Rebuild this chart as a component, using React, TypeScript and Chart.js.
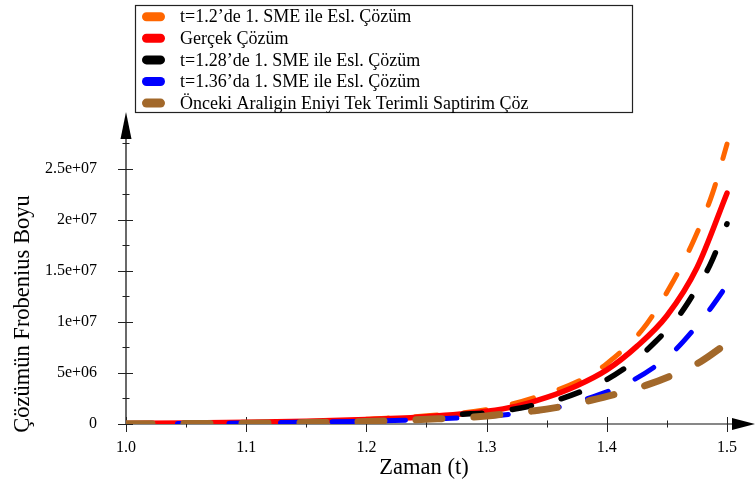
import React, { useEffect, useRef } from 'react';
import { Chart, registerables } from 'chart.js';

Chart.register(...registerables);

const FONT = "'Liberation Serif', 'DejaVu Serif', serif";

const seriesLabels = [
  't=1.2\u2019de 1. SME ile Esl. Çözüm',
  'Gerçek Çözüm',
  't=1.28\u2019de 1. SME ile Esl. Çözüm',
  't=1.36\u2019da 1. SME ile Esl. Çözüm',
  'Önceki Araligin Eniyi Tek Terimli Saptirim Çöz',
];
const seriesColors = ['#ff6600', '#ff0000', '#000000', '#0000ff', '#a2682a'];

const orangeT = [1.2, 1.25, 1.3, 1.34, 1.38, 1.4, 1.43, 1.453, 1.472, 1.488, 1.5];
const orangeV = [4.7e5, 8.0e5, 1.4e6, 2.6e6, 4.4e6, 5.9e6, 9.3e6, 1.35e7, 1.79e7, 2.26e7, 2.74e7];

const redT = [1.0, 1.05, 1.1, 1.15, 1.2, 1.25, 1.3, 1.325, 1.35, 1.375, 1.4, 1.425, 1.45, 1.475, 1.5];
const redV = [5e4, 1.0e5, 1.7e5, 2.8e5, 4.5e5, 7.2e5, 1.25e6, 1.75e6, 2.6e6, 3.75e6, 5.3e6, 7.6e6, 1.06e7, 1.53e7, 2.26e7];

const blackT = [1.28, 1.3, 1.32, 1.34, 1.36, 1.38, 1.4, 1.42, 1.44, 1.46, 1.475, 1.486, 1.5];
const blackV = [9.5e5, 1.1e6, 1.4e6, 1.86e6, 2.4e6, 3.25e6, 4.35e6, 5.9e6, 8.0e6, 1.06e7, 1.33e7, 1.56e7, 1.96e7];

const blueT = [1.0, 1.05, 1.1, 1.15, 1.2, 1.25, 1.3, 1.32, 1.34, 1.36, 1.383, 1.404, 1.422, 1.441, 1.457, 1.472, 1.485, 1.5];
const blueV = [0, 5e4, 1.0e5, 1.8e5, 2.8e5, 4.5e5, 7.5e5, 9.5e5, 1.25e6, 1.65e6, 2.45e6, 3.33e6, 4.3e6, 5.7e6, 7.25e6, 9.2e6, 1.11e7, 1.36e7];

const brownT = [1.0, 1.05, 1.1, 1.15, 1.2, 1.25, 1.3, 1.32, 1.34, 1.365, 1.386, 1.41, 1.433, 1.457, 1.478, 1.5];
const brownV = [2e4, 4e4, 8e4, 1.4e5, 2.5e5, 4.6e5, 7.8e5, 1.05e6, 1.3e6, 1.76e6, 2.3e6, 3.0e6, 3.8e6, 4.9e6, 6.1e6, 7.9e6];

const xTickValues = [1.0, 1.1, 1.2, 1.3, 1.4, 1.5];
const xTickLabels = ['1.0', '1.1', '1.2', '1.3', '1.4', '1.5'];
const xMinorValues = [1.05, 1.15, 1.25, 1.35, 1.45];
const yTickValues = [0, 5e6, 1e7, 1.5e7, 2e7, 2.5e7];
const yTickLabels = ['0', '5e+06', '1e+07', '1.5e+07', '2e+07', '2.5e+07'];
const yMinorValues = [2.5e6, 7.5e6, 1.25e7, 1.75e7, 2.25e7, 2.75e7];

const xTitle = 'Zaman (t)';
const yTitle = 'Çözümün Frobenius Boyu';

const toPoints = (t: number[], v: number[]) => t.map((x, i) => ({ x, y: v[i] }));

const axesPlugin = {
  id: 'customAxes',
  beforeDatasetsDraw(chart: any) {
    const { ctx, chartArea, scales } = chart;
    const xs = scales.x;
    const ys = scales.y;
    const x0 = xs.getPixelForValue(1.0);
    const y0 = ys.getPixelForValue(0);
    ctx.save();
    ctx.strokeStyle = '#444';
    ctx.fillStyle = '#000';
    ctx.lineWidth = 1.6;
    // y axis
    ctx.beginPath();
    ctx.moveTo(x0, y0 + 1);
    ctx.lineTo(x0, chartArea.top);
    ctx.stroke();
    ctx.beginPath();
    ctx.moveTo(x0, chartArea.top - 26);
    ctx.lineTo(x0 - 5.5, chartArea.top + 1);
    ctx.lineTo(x0 + 5.5, chartArea.top + 1);
    ctx.closePath();
    ctx.fill();
    // x axis
    ctx.lineWidth = 1.2;
    ctx.strokeStyle = '#111';
    ctx.beginPath();
    ctx.moveTo(x0, y0);
    ctx.lineTo(chartArea.right, y0);
    ctx.stroke();
    ctx.beginPath();
    ctx.moveTo(chartArea.right + 22, y0);
    ctx.lineTo(chartArea.right - 1, y0 - 6);
    ctx.lineTo(chartArea.right - 1, y0 + 6);
    ctx.closePath();
    ctx.fill();
    // ticks
    ctx.lineWidth = 1;
    ctx.strokeStyle = '#222';
    yTickValues.forEach((v) => {
      const p = Math.round(ys.getPixelForValue(v)) + 0.5;
      ctx.beginPath();
      ctx.moveTo(x0 - 8, p);
      ctx.lineTo(x0 + 7, p);
      ctx.stroke();
    });
    yMinorValues.forEach((v) => {
      const p = Math.round(ys.getPixelForValue(v)) + 0.5;
      ctx.beginPath();
      ctx.moveTo(x0 - 3.5, p);
      ctx.lineTo(x0 + 3.5, p);
      ctx.stroke();
    });
    xTickValues.forEach((v) => {
      const p = Math.round(xs.getPixelForValue(v)) + 0.5;
      ctx.beginPath();
      ctx.moveTo(p, y0 - 7);
      ctx.lineTo(p, y0 + 8);
      ctx.stroke();
    });
    xMinorValues.forEach((v) => {
      const p = Math.round(xs.getPixelForValue(v)) + 0.5;
      ctx.beginPath();
      ctx.moveTo(p, y0 - 3.5);
      ctx.lineTo(p, y0 + 3.5);
      ctx.stroke();
    });
    // titles
    ctx.fillStyle = '#000';
    ctx.font = `22.5px ${FONT}`;
    ctx.textAlign = 'center';
    ctx.textBaseline = 'middle';
    ctx.fillText(xTitle, 424, 468);
    ctx.translate(23, 314);
    ctx.rotate(-Math.PI / 2);
    ctx.fillText(yTitle, 0, 0);
    ctx.restore();
  },
};

const legendPlugin = {
  id: 'boxLegend',
  afterDraw(chart: any) {
    const { ctx } = chart;
    ctx.save();
    ctx.fillStyle = '#fff';
    ctx.fillRect(135, 5, 498, 108);
    ctx.strokeStyle = '#222';
    ctx.lineWidth = 1.2;
    ctx.strokeRect(135.5, 5.5, 497, 107);
    ctx.font = `18px ${FONT}`;
    ctx.textAlign = 'left';
    ctx.textBaseline = 'middle';
    chart.data.datasets.forEach((ds: any, i: number) => {
      const cy = 16.7 + i * 21.6;
      ctx.fillStyle = ds.borderColor;
      const w = 23;
      const h = 9;
      const x = 142;
      ctx.beginPath();
      ctx.moveTo(x + h / 2, cy - h / 2);
      ctx.lineTo(x + w - h / 2, cy - h / 2);
      ctx.arc(x + w - h / 2, cy, h / 2, -Math.PI / 2, Math.PI / 2);
      ctx.lineTo(x + h / 2, cy + h / 2);
      ctx.arc(x + h / 2, cy, h / 2, Math.PI / 2, (3 * Math.PI) / 2);
      ctx.closePath();
      ctx.fill();
      ctx.fillStyle = '#000';
      ctx.fillText(ds.label, 180, cy + 1);
    });
    ctx.restore();
  },
};

export default function App() {
  const canvasRef = useRef<HTMLCanvasElement | null>(null);

  useEffect(() => {
    if (!canvasRef.current) return;
    const common = {
      pointRadius: 0,
      pointHoverRadius: 0,
      fill: false,
      cubicInterpolationMode: 'monotone' as const,
      borderCapStyle: 'round' as const,
      borderJoinStyle: 'round' as const,
    };
    const chart = new Chart(canvasRef.current, {
      type: 'line',
      data: {
        datasets: [
          { ...common, label: seriesLabels[0], data: toPoints(orangeT, orangeV), borderColor: seriesColors[0], borderWidth: 5, borderDash: [22, 27], order: 5 },
          { ...common, label: seriesLabels[1], data: toPoints(redT, redV), borderColor: seriesColors[1], borderWidth: 5.5, order: 4 },
          { ...common, label: seriesLabels[2], data: toPoints(blackT, blackV), borderColor: seriesColors[2], borderWidth: 5.5, borderDash: [19.5, 30.5], order: 3 },
          { ...common, label: seriesLabels[3], data: toPoints(blueT, blueV), borderColor: seriesColors[3], borderWidth: 5, borderDash: [22, 29.5], order: 2 },
          { ...common, label: seriesLabels[4], data: toPoints(brownT, brownV), borderColor: seriesColors[4], borderWidth: 7, borderDash: [26, 32], order: 1 },
        ],
      },
      options: {
        animation: false,
        responsive: false,
        devicePixelRatio: 1,
        layout: { padding: { top: 138, right: 22, left: 0, bottom: 0 } },
        plugins: { legend: { display: false }, tooltip: { enabled: false } },
        scales: {
          x: {
            type: 'linear',
            min: 1.0,
            max: 1.505,
            grid: { display: false, drawTicks: false },
            border: { display: false },
            afterBuildTicks: (s: any) => {
              s.ticks = xTickValues.map((value) => ({ value }));
            },
            afterFit: (s: any) => {
              s.height = 66;
            },
            ticks: {
              autoSkip: false,
              maxRotation: 0,
              padding: 14,
              color: '#000',
              font: { family: FONT, size: 16 },
              callback: (_v: any, i: number) => xTickLabels[i],
            },
          },
          y: {
            type: 'linear',
            min: 0,
            max: 2.8e7,
            grid: { display: false, drawTicks: false },
            border: { display: false },
            afterBuildTicks: (s: any) => {
              s.ticks = yTickValues.map((value) => ({ value }));
            },
            afterFit: (s: any) => {
              s.width = 126;
            },
            ticks: {
              autoSkip: false,
              padding: 29,
              color: '#000',
              font: { family: FONT, size: 16 },
              callback: (_v: any, i: number) => yTickLabels[i],
            },
          },
        },
      },
      plugins: [axesPlugin, legendPlugin],
    });
    return () => chart.destroy();
  }, []);

  return (
    <div style={{ position: 'fixed', left: 0, top: 0, width: 755, height: 490, background: '#fff' }}>
      <canvas ref={canvasRef} width={755} height={490} style={{ width: 755, height: 490, display: 'block' }} />
    </div>
  );
}
